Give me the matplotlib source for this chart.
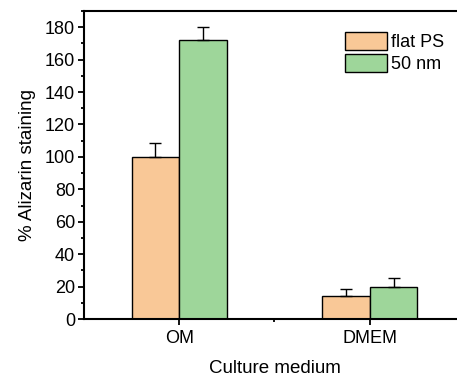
import numpy as np
import matplotlib
matplotlib.use("Agg")
import matplotlib.pyplot as plt
from matplotlib.ticker import MultipleLocator, FixedLocator

plt.rcParams['font.family'] = ['Liberation Sans', 'DejaVu Sans']

# data
media = ['OM', 'DMEM']
flat_ps = [100, 14.4]
flat_ps_err = [8.7, 4.3]
nm50 = [172, 19.9]
nm50_err = [8, 5.2]

x = np.arange(1, len(media) + 1)
w = 0.25

fig = plt.figure(figsize=(4.57, 3.79), dpi=100)
ax = fig.add_axes([0.1838, 0.1583, 0.8337, 0.8127])

ekw = dict(elinewidth=1.0, capsize=4, capthick=1.0, ecolor='black')
ax.bar(x - w / 2, flat_ps, w, color='#F9C897', edgecolor='black', linewidth=1.0,
       yerr=[np.zeros(len(x)), flat_ps_err], error_kw=ekw, label='flat PS')
ax.bar(x + w / 2, nm50, w, color='#9ED69A', edgecolor='black', linewidth=1.0,
       yerr=[np.zeros(len(x)), nm50_err], error_kw=ekw, label='50 nm')

ax.set_xlim(0.5, 2.5)
ax.set_ylim(0, 190)
ax.set_xticks(x)
ax.set_xticklabels(media)
ax.xaxis.set_minor_locator(FixedLocator([1.5]))
ax.yaxis.set_major_locator(MultipleLocator(20))
ax.yaxis.set_minor_locator(MultipleLocator(10))
ax.tick_params(which='both', direction='out', labelsize=13, width=1.3)
ax.tick_params(which='major', length=4.5)
ax.tick_params(which='minor', length=2.5)
ax.tick_params(axis='y', pad=2)

for s in ax.spines.values():
    s.set_linewidth(1.5)

ax.set_xlabel('Culture medium', fontsize=13.5, labelpad=9)
ax.set_ylabel('% Alizarin staining', fontsize=13.5, labelpad=6)

ax.legend(loc='upper left', bbox_to_anchor=(0.685, 0.932), frameon=False,
          fontsize=13, handlelength=2.3, handleheight=1.2,
          handletextpad=0.25, labelspacing=0.14, borderpad=0, borderaxespad=0)

fig.savefig('out.png', dpi=100)
